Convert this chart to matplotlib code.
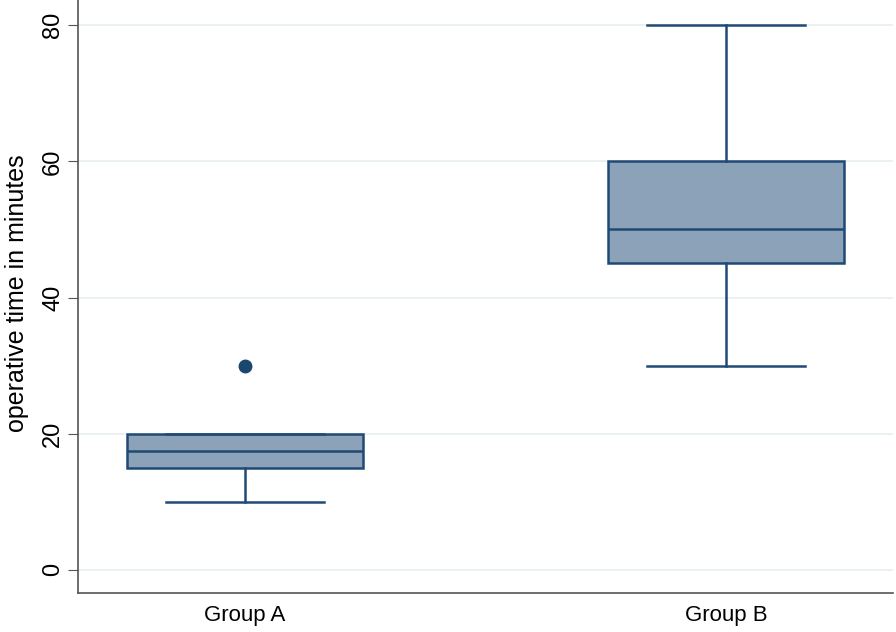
import matplotlib.pyplot as plt

groups = ['Group A', 'Group B']
q1 = [15, 45]
medians = [17.5, 50]
q3 = [20, 60]
whisk_lo = [10, 30]
whisk_hi = [20, 80]
outliers = [[30], []]

plt.rcParams['font.family'] = ['Liberation Sans', 'DejaVu Sans']

navy = '#1f4a75'
fig = plt.figure(figsize=(8.96, 6.32), dpi=100)
ax = fig.add_axes([78/896, 39/632, 815/896, 593/632])

stats = []
for i in range(len(groups)):
    stats.append(dict(label=groups[i], med=medians[i], q1=q1[i], q3=q3[i],
                      whislo=whisk_lo[i], whishi=whisk_hi[i], fliers=outliers[i]))

ax.bxp(stats, positions=[1, 2], widths=0.49, capwidths=0.33, patch_artist=True,
       boxprops=dict(facecolor='#8ca2b8', edgecolor=navy, linewidth=1.8),
       medianprops=dict(color=navy, linewidth=1.8),
       whiskerprops=dict(color=navy, linewidth=1.8),
       capprops=dict(color=navy, linewidth=1.8),
       flierprops=dict(marker='o', markerfacecolor='#1a476f', markeredgecolor='#1a476f', markersize=9))

ax.set_xlim(0.653, 2.347)
ax.set_ylim(-3.4, 83.7)
ax.set_yticks([0, 20, 40, 60, 80])
ax.yaxis.grid(True, color='#e6eff1', linewidth=1.2)
ax.set_axisbelow(True)
for s in ['top', 'right']:
    ax.spines[s].set_visible(False)
for s in ['left', 'bottom']:
    ax.spines[s].set_color('#555555')
    ax.spines[s].set_linewidth(1.2)
ax.tick_params(axis='y', labelsize=17, length=7, color='#555555', labelrotation=90, pad=3)
ax.tick_params(axis='x', labelsize=16, length=0, pad=9)
for lbl in ax.get_yticklabels():
    lbl.set_va('center')
ax.set_ylabel('operative time in minutes', fontsize=18, va='center')
ax.yaxis.set_label_coords(-0.075, 0.506)

plt.savefig('out.png')
